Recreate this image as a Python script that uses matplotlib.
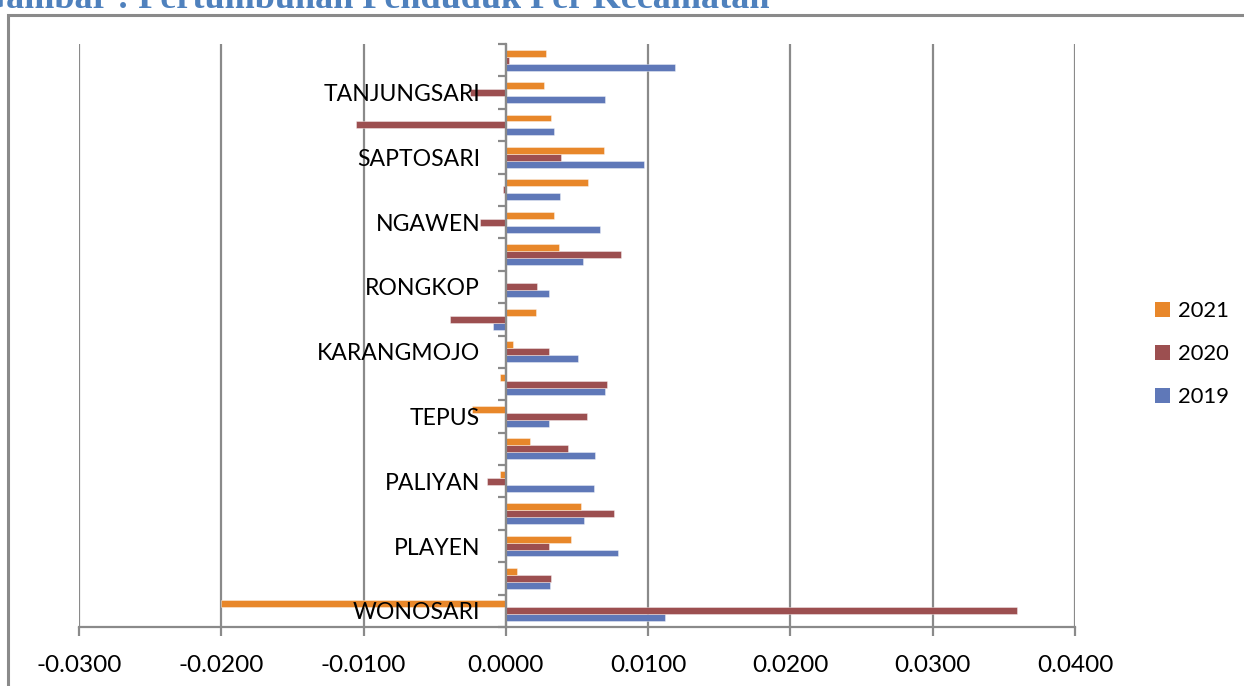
import matplotlib
matplotlib.use("Agg")
import matplotlib.pyplot as plt
from matplotlib.patches import Rectangle, Patch
from matplotlib.ticker import FixedLocator, FormatStrFormatter
import numpy as np

categories = ["WONOSARI", "NGLIPAR", "PLAYEN", "PATUK", "PALIYAN", "PANGGANG",
              "TEPUS", "SEMANU", "KARANGMOJO", "PONJONG", "RONGKOP", "SEMIN",
              "NGAWEN", "GEDANGSARI", "SAPTOSARI", "GIRISUBO", "TANJUNGSARI", "PURWOSARI"]
v2019 = [0.0112, 0.0031, 0.0079, 0.0055, 0.0062, 0.0063, 0.0030, 0.0070, 0.0051,
         -0.0009, 0.0030, 0.0054, 0.0066, 0.0038, 0.0097, 0.0034, 0.0070, 0.0119]
v2020 = [0.0359, 0.0032, 0.0030, 0.0076, -0.0013, 0.0044, 0.0057, 0.0071, 0.0030,
         -0.0039, 0.0022, 0.0081, -0.0018, -0.0002, 0.0039, -0.0105, -0.0025, 0.0002]
v2021 = [-0.0200, 0.0008, 0.0046, 0.0053, -0.0004, 0.0017, -0.0024, -0.0004, 0.0005,
         0.0021, 0.0000, 0.0037, 0.0034, 0.0058, 0.0069, 0.0032, 0.0027, 0.0028]
series_names = ["2019", "2020", "2021"]
xticks = [-0.03, -0.02, -0.01, 0.0, 0.01, 0.02, 0.03, 0.04]
title = "Gambar : Pertumbuhan Penduduk Per Kecamatan"

colors = {"2019": "#5F78B8", "2020": "#9C4F50", "2021": "#E8872A"}
GRAY = "#8A8A8A"
FONT = ["Lato", "DejaVu Sans"]

W, H = 1244, 686
fig = plt.figure(figsize=(W / 100, H / 100), dpi=100)
ax = fig.add_axes([79 / W, 1 - 627 / H, (1075 - 79) / W, (627 - 44) / H])

y = np.arange(len(categories))
h = 0.215
for vals, name, off in [(v2019, "2019", -h), (v2020, "2020", 0.0), (v2021, "2021", h)]:
    ax.barh(y + off, vals, height=h, color=colors[name], edgecolor=(1, 1, 1, 0.45),
            linewidth=0.6, zorder=2)

ax.set_xlim(xticks[0], xticks[-1])
ax.set_ylim(-0.5, len(categories) - 0.5)
ax.set_xticks(xticks)
ax.xaxis.set_major_formatter(FormatStrFormatter("%.4f"))
ax.grid(axis="x", color=GRAY, linewidth=1.6, zorder=0)
ax.set_axisbelow(True)

for s in ["top", "right"]:
    ax.spines[s].set_visible(False)
ax.spines["bottom"].set_color(GRAY)
ax.spines["bottom"].set_linewidth(1.6)
ax.spines["left"].set_position(("data", 0))
ax.spines["left"].set_color(GRAY)
ax.spines["left"].set_linewidth(1.6)
ax.spines["left"].set_zorder(3)

ax.tick_params(axis="x", direction="out", length=6.5, width=1.6, color=GRAY,
               labelsize=17.6, pad=14)
for lab in ax.get_xticklabels():
    lab.set_family(FONT)

# category axis: ticks at boundaries, labels at every other category
ax.yaxis.set_major_locator(FixedLocator(np.arange(-0.5, len(categories), 1.0)))
ax.yaxis.set_minor_locator(FixedLocator(y[::2]))
ax.set_yticklabels([])
ax.set_yticklabels([categories[i] for i in y[::2]], minor=True)
ax.tick_params(axis="y", which="major", direction="out", length=6, width=1.6, color=GRAY)
ax.tick_params(axis="y", which="minor", length=0, labelsize=16.6, pad=18.5)
for lab in ax.get_yticklabels(minor=True):
    lab.set_family(FONT)
ax.yaxis.set_zorder(5)

# legend (reverse order: 2021 top)
handles = [Patch(facecolor=colors[n]) for n in reversed(series_names)]
fig.legend(handles, list(reversed(series_names)), loc="center left",
           bbox_to_anchor=(1155 / W, 1 - 354 / H), frameon=False,
           prop={"family": FONT, "size": 15.8}, handlelength=0.68,
           handleheight=0.68, handletextpad=0.38, labelspacing=1.05,
           borderpad=0, borderaxespad=0)

# chart frame and title (clipped at the top edge, as in the reference)
fig.add_artist(Rectangle((8 / W, -0.2), 1.2, (1 - 15 / H) + 0.2, transform=fig.transFigure,
                         fill=False, edgecolor=GRAY, linewidth=2.2))
fig.text(770 / W, 1 - 8 / H, title, ha="right", va="baseline", fontsize=26,
         fontweight="bold", color="#4F81BD", family="Liberation Serif")

fig.savefig("out.png", dpi=100)
